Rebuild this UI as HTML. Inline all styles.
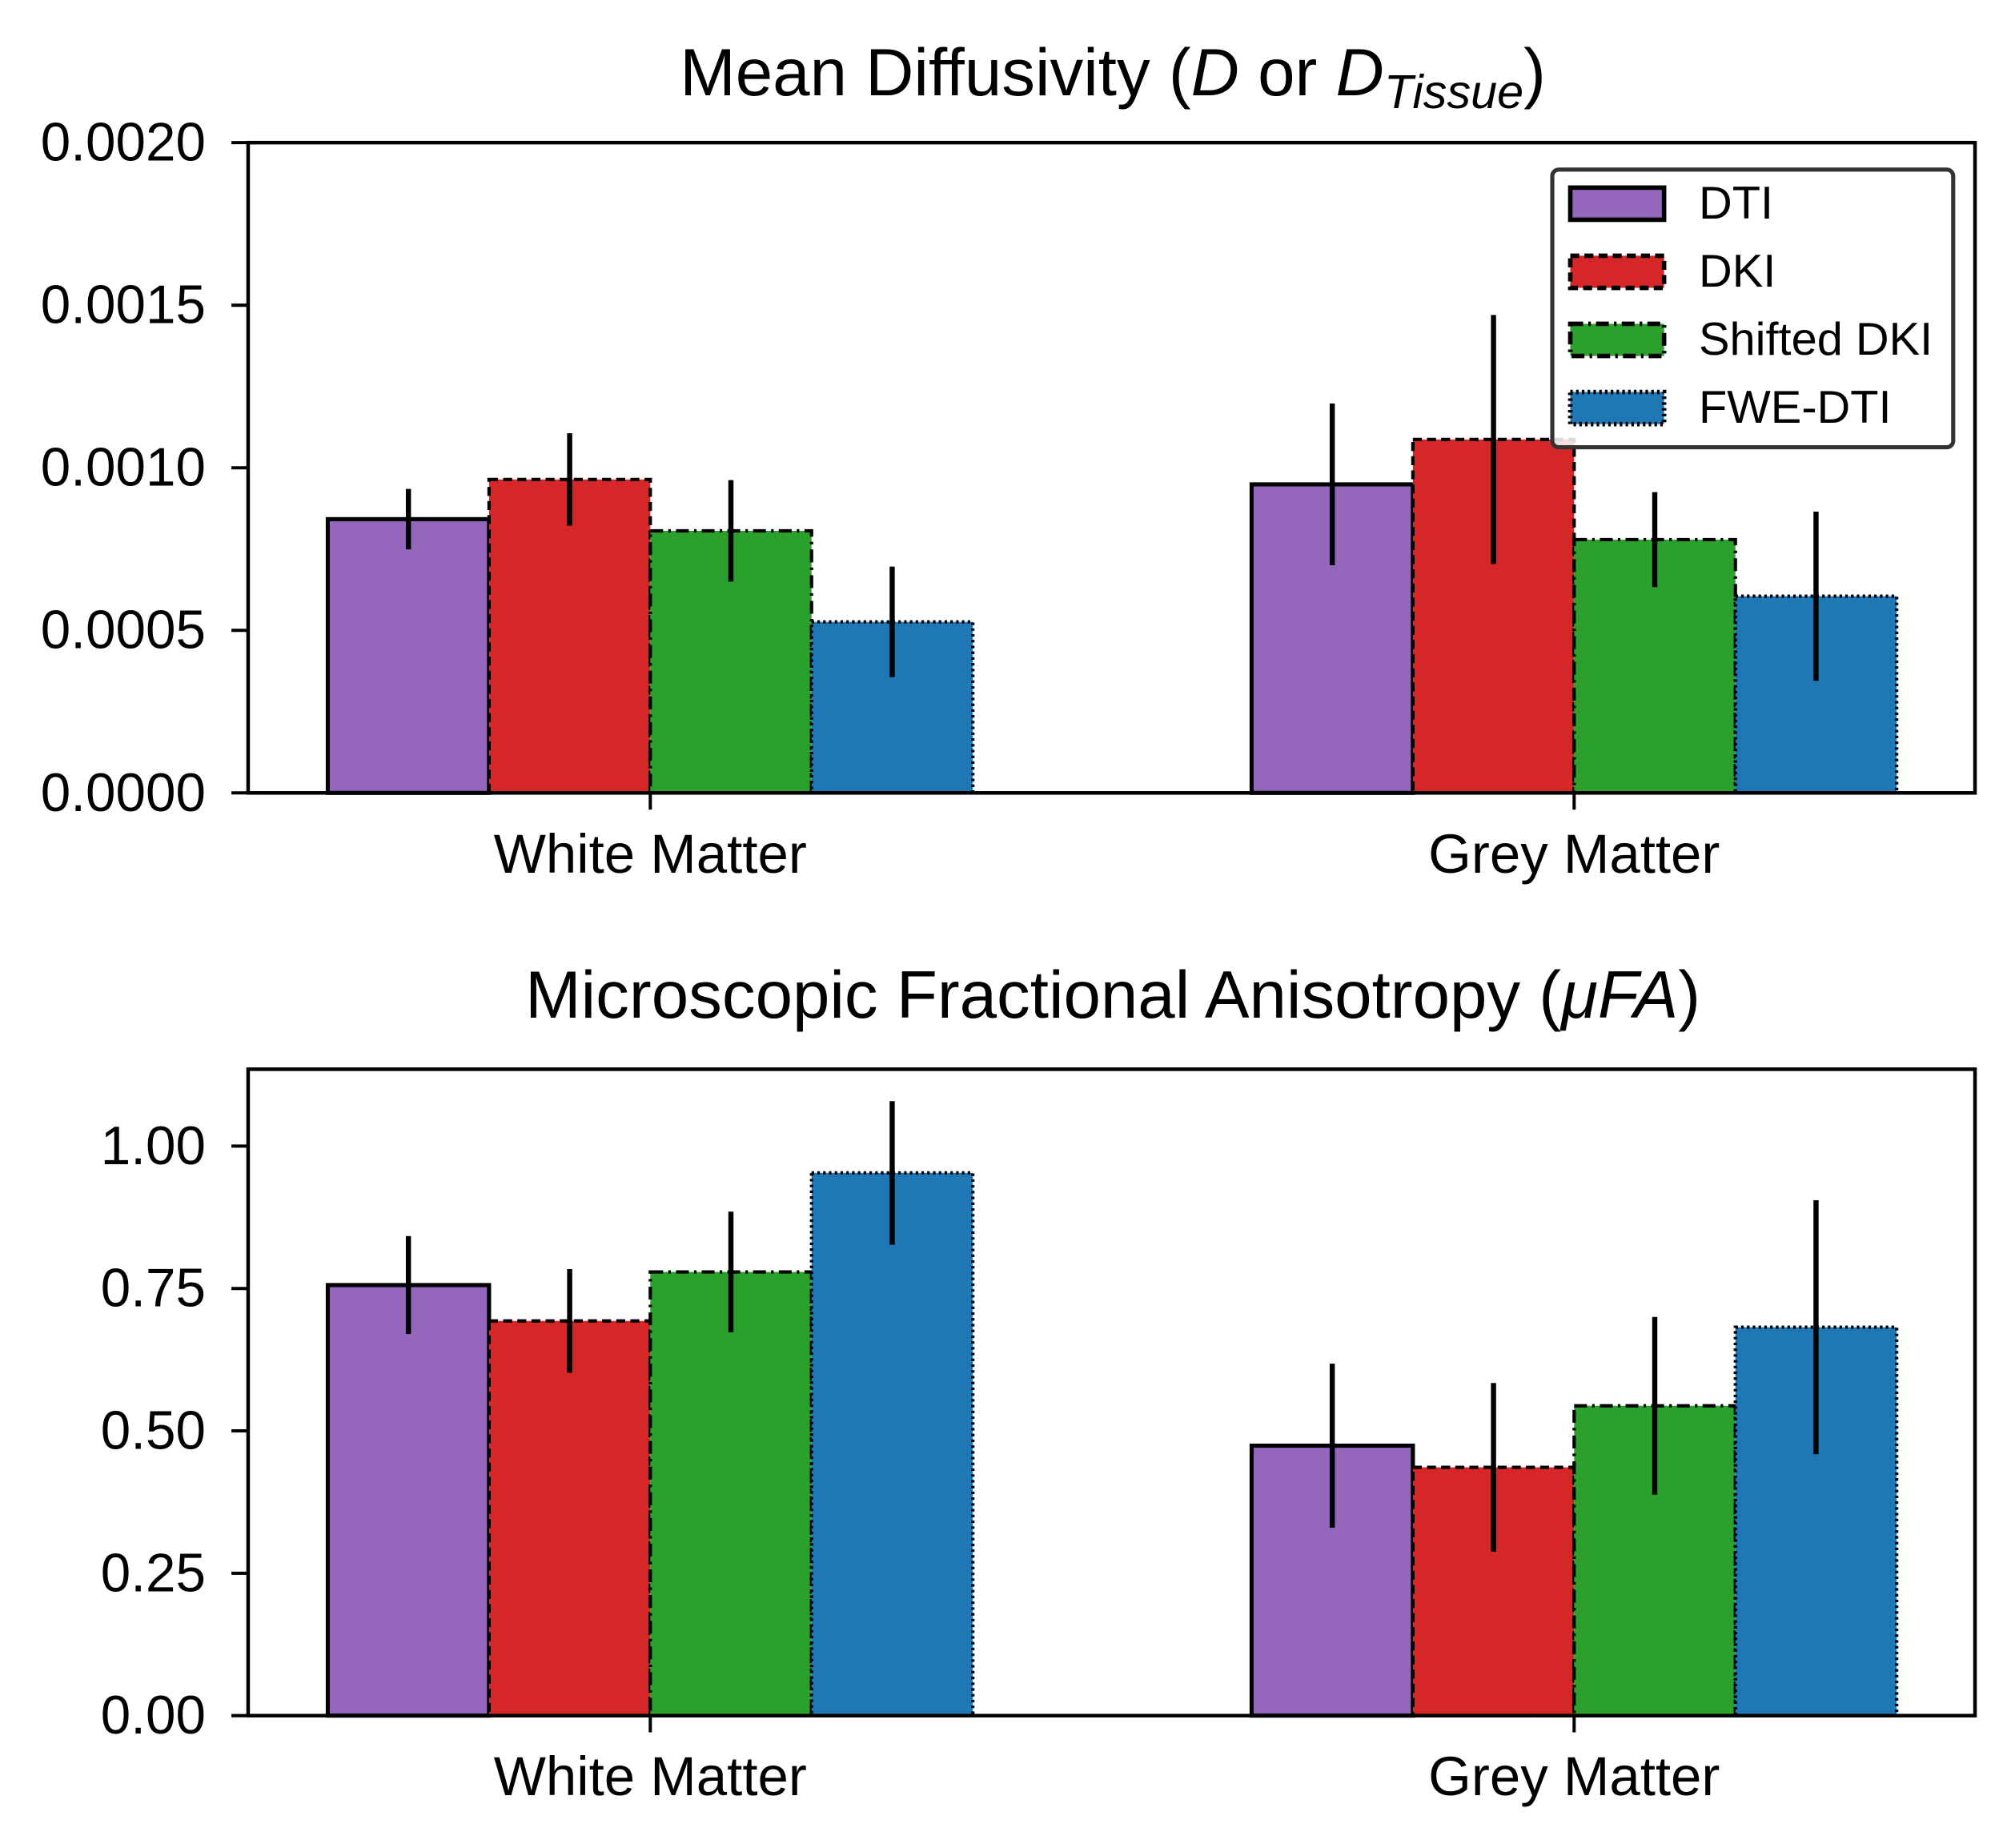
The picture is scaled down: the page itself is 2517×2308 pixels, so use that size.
<!DOCTYPE html>
<html><head><meta charset="utf-8"><style>
html,body{margin:0;padding:0;background:#fff}
svg{display:block;font-family:"Liberation Sans",Arial,sans-serif}
</style></head><body>
<svg id="chart" width="2517" height="2308" viewBox="0 0 1568 1438" xmlns="http://www.w3.org/2000/svg">
<rect width="1568" height="1438" fill="#fff"/>
<text x="866" y="74" font-size="52" text-anchor="middle">Mean Diffusivity (<tspan font-style="italic">D</tspan> or <tspan font-style="italic">D</tspan><tspan font-style="italic" font-size="37" dy="10">Tissue</tspan><tspan dy="-10">)</tspan></text>
<text x="866" y="792" font-size="52" text-anchor="middle">Microscopic Fractional Anisotropy (<tspan font-style="italic">μFA</tspan>)</text>
<g id="top"></g>
<g id="bot"></g>
<g id="legend"></g>
</svg>
<script>
const categories = ["White Matter", "Grey Matter"];
const seriesNames = ["DTI", "DKI", "Shifted DKI", "FWE-DTI"];
const mdValues = [[0.000842, 0.000949],[0.000964, 0.001087],[0.000806, 0.000779],[0.000526, 0.000605]];
const mdErrors = [[0.000093, 0.000249],[0.000142, 0.000383],[0.000156, 0.000146],[0.00017, 0.00026]];
const mdTicks = ["0.0000","0.0005","0.0010","0.0015","0.0020"];
const mdTickVals = [0, 0.0005, 0.001, 0.0015, 0.002];
const faValues = [[0.756, 0.474],[0.693, 0.436],[0.779, 0.544],[0.953, 0.682]];
const faErrors = [[0.086, 0.144],[0.091, 0.148],[0.106, 0.156],[0.126, 0.223]];
const faTicks = ["0.00","0.25","0.50","0.75","1.00"];
const faTickVals = [0, 0.25, 0.5, 0.75, 1.0];

const colors = ["#9467bd","#d62728","#2ca02c","#1f77b4"];
const dashes = [null,"7,4","10,4,2,4","2,2.5"];
const NS = "http://www.w3.org/2000/svg";
function mk(tag, attrs, parent){const e=document.createElementNS(NS,tag);for(const k in attrs)e.setAttribute(k,attrs[k]);parent.appendChild(e);return e;}

const X0=193, X1=1537;
const xScale = v => 506 + v*719;
const barW = 125.5;

function panel(g, top, bottom, ymax, values, errors, ticks, tickVals, prefix){
  const yScale = v => bottom - v/ymax*(bottom-top);
  for(let s=0;s<values.length;s++){
    for(let c=0;c<categories.length;c++){
      const xc = xScale(c) + (s-1.5)*barW;
      const y = yScale(values[s][c]);
      const r = mk('rect',{x:xc-barW/2,y:y,width:barW,height:bottom-y,fill:colors[s],stroke:'#000','stroke-width':s==0?3.2:2.6},g);
      
      
      if(dashes[s]) r.setAttribute('stroke-dasharray',dashes[s]);
      const e = mk('line',{x1:xc,x2:xc,y1:yScale(values[s][c]-errors[s][c]),y2:yScale(values[s][c]+errors[s][c]),stroke:'#000','stroke-width':4},g);
      
      
    }
  }
  const fr = mk('rect',{x:X0,y:top,width:X1-X0,height:bottom-top,fill:'none',stroke:'#000','stroke-width':2.8},g);
  
  
  for(let i=0;i<ticks.length;i++){
    const y = yScale(tickVals[i]);
    mk('line',{x1:X0-13,x2:X0,y1:y,y2:y,stroke:'#000','stroke-width':2.5},g);
    const t = mk('text',{x:X0-33,y:y+14,'font-size':42,'text-anchor':'end'},g);
    t.textContent = ticks[i];
    
    
  }
  for(let c=0;c<categories.length;c++){
    const x = xScale(c);
    mk('line',{x1:x,x2:x,y1:bottom,y2:bottom+13,stroke:'#000','stroke-width':2.5},g);
    const t = mk('text',{x:x,y:bottom+62,'font-size':43,'text-anchor':'middle'},g);
    t.textContent = categories[c];
    
    
  }
}
panel(document.getElementById('top'), 111, 617, 0.002, mdValues, mdErrors, mdTicks, mdTickVals, 'md');
panel(document.getElementById('bot'), 832, 1335, 1.135, faValues, faErrors, faTicks, faTickVals, 'fa');

const lg = document.getElementById('legend');
mk('rect',{x:1208,y:132,width:312,height:216,rx:5,fill:'#fff','fill-opacity':0.85,stroke:'#333','stroke-width':3.2},lg);
for(let s=0;s<seriesNames.length;s++){
  const y = 158 + s*53;
  const p = mk('rect',{x:1222,y:y-12,width:73,height:25,fill:colors[s],stroke:'#000','stroke-width':3.5},lg);
  
  
  if(dashes[s]) p.setAttribute('stroke-dasharray',dashes[s]);
  const t = mk('text',{x:1322,y:y+12,'font-size':36},lg);
  t.textContent = seriesNames[s];
  
  
}
</script>
</body></html>
